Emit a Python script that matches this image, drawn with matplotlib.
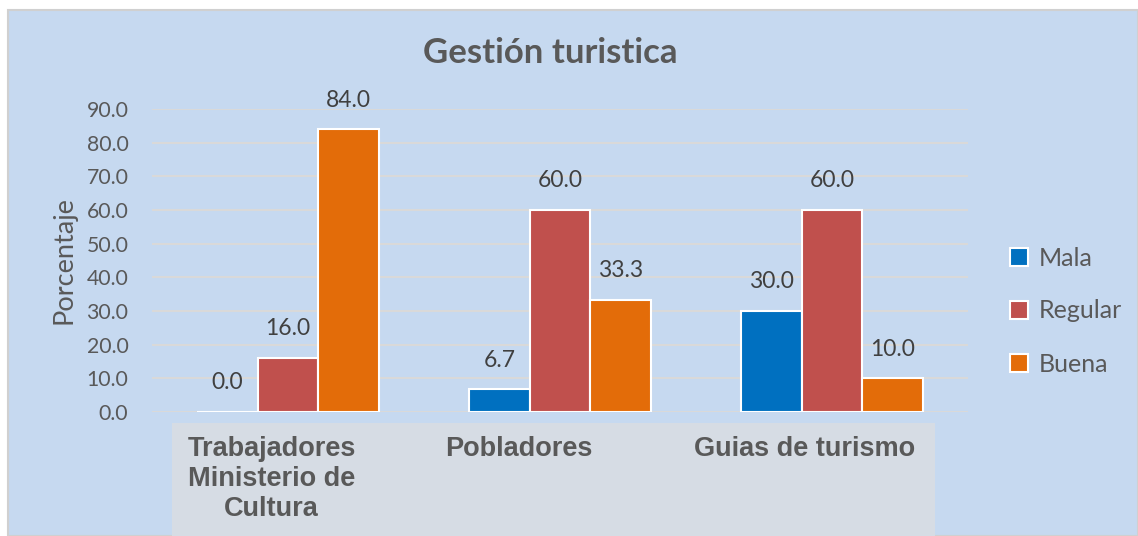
import numpy as np
import matplotlib.pyplot as plt
from matplotlib.patches import Rectangle

# Data
categories = ["Trabajadores\nMinisterio de\nCultura", "Pobladores", "Guias de turismo"]
series = ["Mala", "Regular", "Buena"]
mala = [0.0, 6.7, 30.0]
regular = [16.0, 60.0, 60.0]
buena = [84.0, 33.3, 10.0]
colors = ["#0070C0", "#C0504D", "#E36C09"]

plt.rcParams['font.family'] = ['Lato', 'DejaVu Sans']

W, H = 1138, 536
fig = plt.figure(figsize=(W / 100, H / 100), dpi=100)
fig.patch.set_facecolor("white")

# chart area background
fig.patches.append(Rectangle((8 / W, 0), 1 - 8 / W, 1 - 10 / H, transform=fig.transFigure,
                             facecolor="#C6D9F0", edgecolor="#D0D0D0", lw=1.5, zorder=-10))
# category label box
fig.patches.append(Rectangle((172 / W, 0), (935 - 172) / W, (536 - 423) / H, transform=fig.transFigure,
                             facecolor="#D6DCE4", edgecolor="none", zorder=-5))

ax = fig.add_axes([152 / W, (536 - 412) / H, (968 - 152) / W, (412 - 109) / H])
ax.set_facecolor("none")

x = np.arange(len(categories))
w = 0.222
for i, (vals, name) in enumerate(zip([mala, regular, buena], series)):
    bars = ax.bar(x + (i - 1) * w, vals, w, color=colors[i], edgecolor="white", lw=1.5,
                  label=name, zorder=3)
    for b, v in zip(bars, vals):
        ax.annotate(f"{v:.1f}", (b.get_x() + b.get_width() / 2, v), xytext=(0, 21),
                    textcoords="offset points", ha="center", va="center",
                    fontsize=16.5, color="#404040")

ax.set_xlim(-0.5, 2.5)
ax.set_ylim(0, 90)
ax.set_yticks(np.arange(0, 91, 10))
ax.set_yticklabels([f"{v:.1f}" for v in np.arange(0, 91, 10)], fontsize=15.3, color="#595959")
ax.tick_params(axis="y", length=0, pad=17)
ax.set_xticks([])
ax.grid(axis="y", color="#D9D9D9", lw=1.5, zorder=0)
for s in ax.spines.values():
    s.set_visible(False)

ax.set_ylabel("Porcentaje", fontsize=19.5, color="#595959", labelpad=7)

# category labels
label_offsets = [-0.06, -0.15, -0.1]
for xi, lab, off in zip(x, categories, label_offsets):
    fig.text(ax.transData.transform((xi + off, 0))[0] / W, (536 - 436) / H, lab,
             ha="center", va="top", fontsize=19.5, fontweight="bold", color="#595959",
             family=["Liberation Sans Narrow", "Liberation Sans"], linespacing=1.2)

fig.text(550 / W, 1 - 53 / H, "Gestión turistica", ha="center", va="center",
         fontsize=25, fontweight="bold", color="#595959")

leg = fig.legend(loc="center left", bbox_to_anchor=(1010 / W, 1 - 311 / H), frameon=False,
                 fontsize=18, labelcolor="#595959", handlelength=0.7, handleheight=0.7,
                 labelspacing=1.2, handletextpad=0.45, borderpad=0, borderaxespad=0)

fig.savefig("out.png", dpi=100)
